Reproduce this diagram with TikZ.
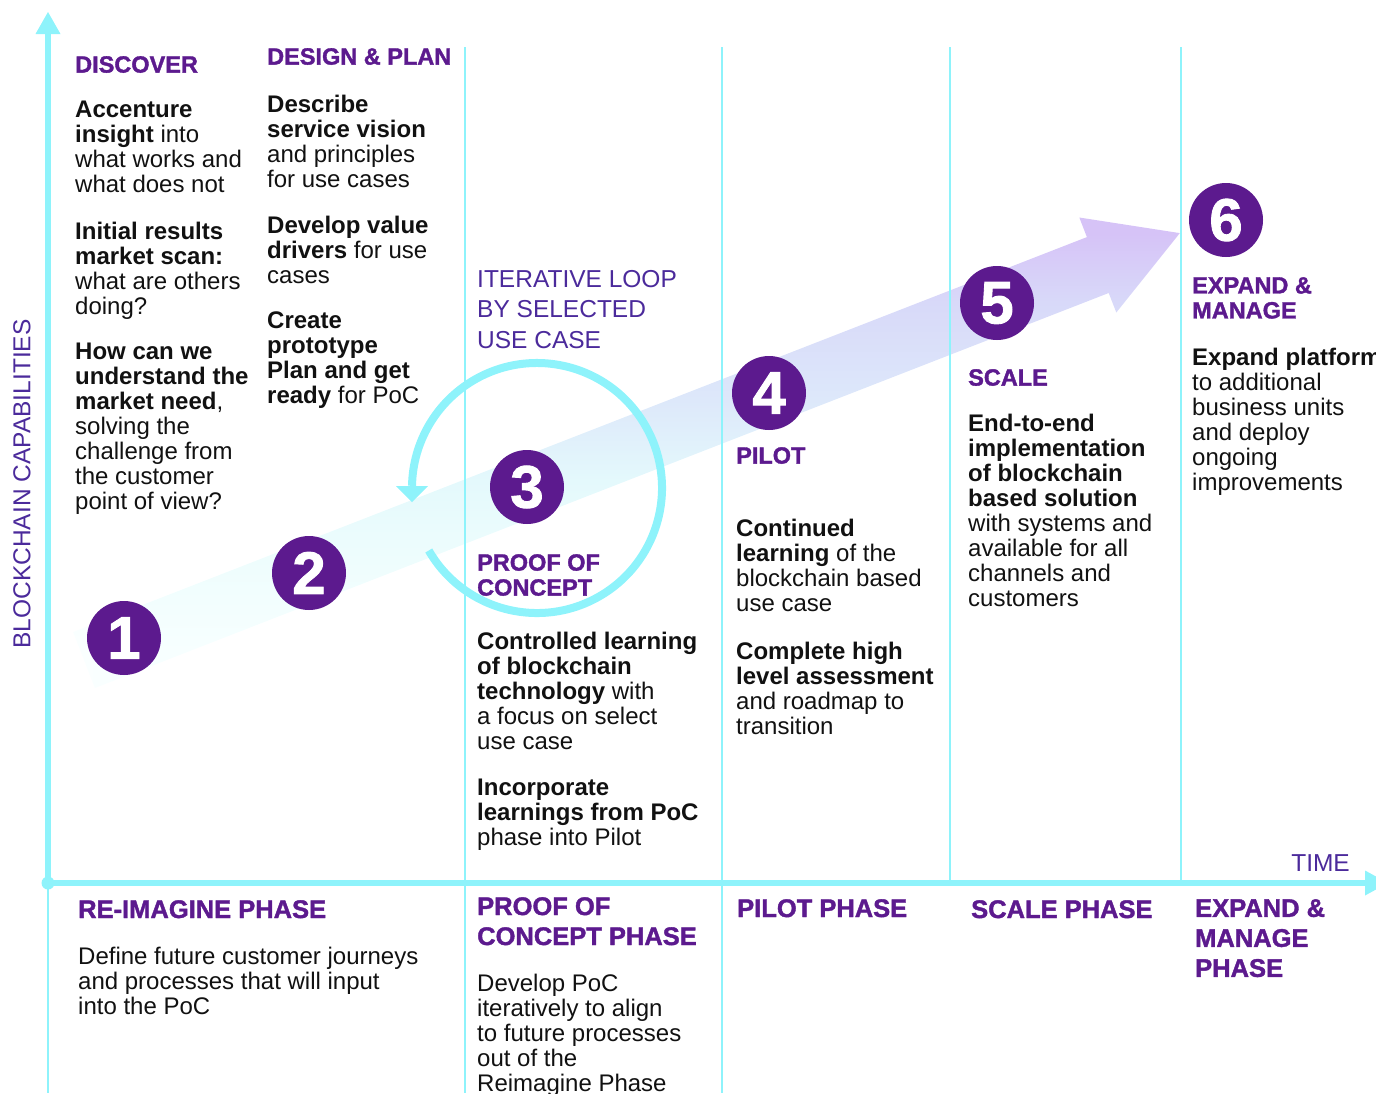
\documentclass[tikz,border=0pt]{standalone}
\usepackage{fontspec}
\setmainfont{Liberation Sans}
\newfontfamily\heavyfam[BoldFeatures={FakeBold=1.5}]{Liberation Sans}
\usetikzlibrary{fadings}
\definecolor{purp}{HTML}{5C1A8E}
\definecolor{lpurp}{HTML}{4B2A9B}
\definecolor{cyanax}{HTML}{8EF3FB}
\definecolor{txt}{HTML}{111111}
\definecolor{b0}{HTML}{F7FFFF}
\definecolor{b1}{HTML}{EEFDFD}
\definecolor{b2}{HTML}{E4F9FC}
\definecolor{b3}{HTML}{DDE8FA}
\definecolor{b4}{HTML}{D8D9F9}
\definecolor{b5}{HTML}{D6C3F7}
\pgfdeclareverticalshading{bandsh}{100bp}{color(0bp)=(b0); color(29bp)=(b0); color(38.7bp)=(b1); color(47bp)=(b2); color(55.6bp)=(b3); color(66bp)=(b4); color(73.3bp)=(b5); color(100bp)=(b5)}
\tikzfading[name=leftwhite, left color=transparent!45, right color=transparent!100]
\tikzset{
  body/.style={anchor=north west, inner sep=0pt, align=left, text=txt, font=\fontsize{24}{25}\selectfont},
  head/.style={anchor=north west, inner sep=0pt, align=left, text=purp, font=\heavyfam\bfseries\fontsize{23.5}{25}\selectfont},
  bighead/.style={anchor=north west, inner sep=0pt, align=left, text=purp, font=\heavyfam\bfseries\fontsize{25.5}{30}\selectfont},
  lbl/.style={inner sep=0pt, align=left, text=lpurp, font=\fontsize{24.5}{30.5}\selectfont},
  num/.style={circle, fill=purp, minimum size=74pt, inner sep=0pt, text=white, font=\heavyfam\bfseries\fontsize{60}{60}\selectfont},
  divider/.style={draw=cyanax, line width=1.6pt},
  axisline/.style={draw=cyanax, line width=5.5pt},
  loopline/.style={draw=cyanax, line width=8pt},
}
\begin{document}
\begin{tikzpicture}[x=1pt,y=-1pt]
\useasboundingbox (0,0) rectangle (1376,1093);

% gradient band arrow
\shade[shading=bandsh] (73.1,632.0) -- (1086.9,237.1) -- (1079.3,217.5) -- (1179.8,233.1) -- (1116.3,312.5) -- (1108.7,293.0) -- (94.9,688.0) -- cycle;
% soft fade of the band's left end
\fill[white, path fading=leftwhite] (66,600) rectangle (150,700);

% dividers
\foreach \x/\yb in {465/1093, 722/1093, 950/883, 1181/883}
  \draw[divider] (\x,47) -- (\x,\yb);

% iterative loop
\draw[loopline] (428.75,550.5) arc[start angle=150, end angle=-179, radius=125];
\fill[cyanax] (396,486) -- (428,486) -- (412,502) -- cycle;

% axes
\coordinate (origin) at (48,883);
\coordinate (ytip) at (48,33);
\coordinate (xtip) at (1366,883);
\draw[axisline] (origin) -- (ytip);
\draw[axisline] (origin) -- (xtip);
\fill[cyanax] (35.5,34) -- (48,12) -- (60.5,34) -- cycle;
\fill[cyanax] (1365,870.5) -- (1388,883) -- (1365,895.5) -- cycle;
\draw[draw=cyanax, line width=1.8pt] (origin) -- (48,1093);
\fill[cyanax] (origin) circle[radius=6.5];

% axis labels
\node[lbl, rotate=90] (ylab) at (22,484) {BLOCKCHAIN CAPABILITIES};
\node[lbl, anchor=north east] (xlab) at (1350,854) {TIME};
\node[lbl, anchor=north west] (loop) at (477,270) {ITERATIVE LOOP\\BY SELECTED\\USE CASE};

% number circles
\node[num] (n1) at (124,638) {1};
\node[num] (n2) at (309,573) {2};
\node[num] (n3) at (527,487) {3};
\node[num] (n4) at (769,393) {4};
\node[num] (n5) at (997,303) {5};
\node[num] (n6) at (1226,220) {6};

% column: discover
\node[head] (h1) at (75,56) {DISCOVER};
\node[body] (a1) at (75,101) {\textbf{Accenture}\\\textbf{insight} into\\what works and\\what does not};
\node[body] (a2) at (75,222) {\textbf{Initial results}\\\textbf{market scan:}\\what are others\\doing?};
\node[body] (a3) at (75,343) {\textbf{How can we}\\\textbf{understand the}\\\textbf{market need},\\solving the\\challenge from\\the customer\\point of view?};

% column: design & plan
\node[head] (h2) at (267,48) {DESIGN \& PLAN};
\node[body] (b1t) at (267,95) {\textbf{Describe}\\\textbf{service vision}\\and principles\\for use cases};
\node[body] (b2t) at (267,216) {\textbf{Develop value}\\\textbf{drivers} for use\\cases};
\node[body] (b3t) at (267,312) {\textbf{Create}\\\textbf{prototype}\\\textbf{Plan and get}\\\textbf{ready} for PoC};

% column: proof of concept
\node[head] (h3) at (477,554) {PROOF OF\\CONCEPT};
\node[body] (c1) at (477,632) {\textbf{Controlled learning}\\\textbf{of blockchain}\\\textbf{technology} with\\a focus on select\\use case};
\node[body] (c2) at (477,779) {\textbf{Incorporate}\\\textbf{learnings from PoC}\\phase into Pilot};

% column: pilot
\node[head] (h4) at (736,447) {PILOT};
\node[body] (d1) at (736,519) {\textbf{Continued}\\\textbf{learning} of the\\blockchain based\\use case};
\node[body] (d2) at (736,642) {\textbf{Complete high}\\\textbf{level assessment}\\and roadmap to\\transition};

% column: scale
\node[head] (h5) at (968,369) {SCALE};
\node[body] (e1) at (968,414) {\textbf{End-to-end}\\\textbf{implementation}\\\textbf{of blockchain}\\\textbf{based solution}\\with systems and\\available for all\\channels and\\customers};

% column: expand & manage
\node[head] (h6) at (1192,277) {EXPAND \&\\MANAGE};
\node[body] (f1) at (1192,348) {\textbf{Expand platform}\\to additional\\business units\\and deploy\\ongoing\\improvements};

% phases below the time axis
\node[bighead] (p1) at (78,900) {RE-IMAGINE PHASE};
\node[body] (p1t) at (78,947) {Define future customer journeys\\and processes that will input\\into the PoC};
\node[bighead] (p2) at (477,897) {PROOF OF\\CONCEPT PHASE};
\node[body] (p2t) at (477,974) {Develop PoC\\iteratively to align\\to future processes\\out of the\\Reimagine Phase};
\node[bighead] (p3) at (737,899) {PILOT PHASE};
\node[bighead] (p4) at (971,900) {SCALE PHASE};
\node[bighead] (p5) at (1195,899) {EXPAND \&\\MANAGE\\PHASE};
\end{tikzpicture}
\end{document}
